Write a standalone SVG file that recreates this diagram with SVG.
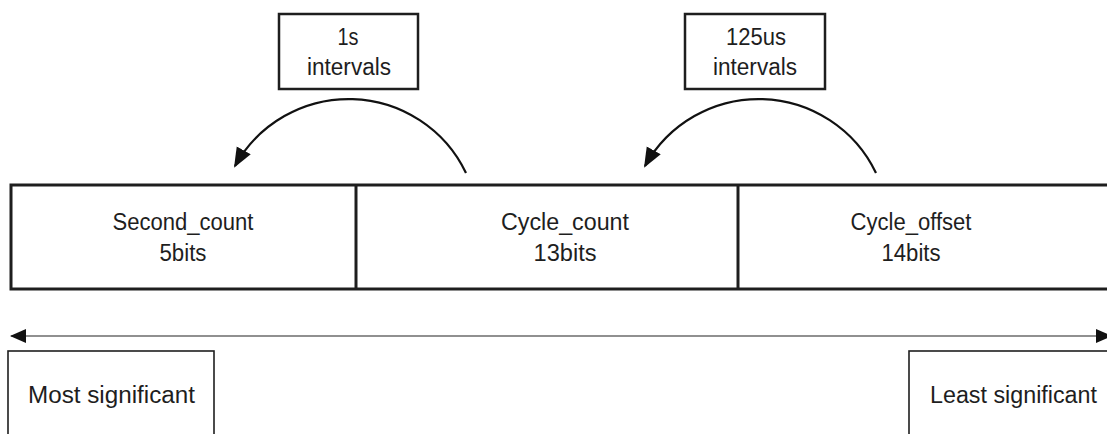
<svg xmlns="http://www.w3.org/2000/svg" width="1107" height="434" viewBox="0 0 1107 434">
<style>
text{font-family:"Liberation Sans",Arial,sans-serif;font-size:23px;fill:#1e1e1e;text-anchor:middle}
.lbl{fill:#fff;stroke:#1e1e1e;stroke-width:2.5}
.fld{fill:#fff;stroke:#1e1e1e;stroke-width:3}
.side{fill:#fff;stroke:#1e1e1e;stroke-width:1.6}
.arc{fill:none;stroke:#111;stroke-width:2.2}
.axis{fill:none;stroke:#222;stroke-width:1.2}
</style>
<defs>
<marker id="ah" markerUnits="userSpaceOnUse" markerWidth="22" markerHeight="18" viewBox="0 -9 22 18" refX="18" refY="0" orient="auto">
<path d="M0,-8 L20,0 L0,8 z" fill="#111"/>
</marker>
<marker id="ax" markerUnits="userSpaceOnUse" markerWidth="18" markerHeight="16" viewBox="0 -8 18 16" refX="15" refY="0" orient="auto-start-reverse">
<path d="M0,-7 L16,0 L0,7 z" fill="#111"/>
</marker>
</defs>
<g id="fields">
<rect class="fld" x="11" y="185" width="1120" height="104"/>
<line class="fld" x1="356" y1="185" x2="356" y2="289"/>
<line class="fld" x1="738" y1="185" x2="738" y2="289"/>
</g>
<g id="second_count">
<text x="183" y="230" textLength="141" lengthAdjust="spacingAndGlyphs">Second_count</text>
<text x="183" y="261" textLength="47" lengthAdjust="spacingAndGlyphs">5bits</text>
</g>
<g id="cycle_count">
<text x="565" y="230" textLength="128" lengthAdjust="spacingAndGlyphs">Cycle_count</text>
<text x="565" y="261" textLength="63" lengthAdjust="spacingAndGlyphs">13bits</text>
</g>
<g id="cycle_offset">
<text x="911" y="230" textLength="121" lengthAdjust="spacingAndGlyphs">Cycle_offset</text>
<text x="911" y="261" textLength="59" lengthAdjust="spacingAndGlyphs">14bits</text>
</g>
<g id="label_1s">
<rect class="lbl" x="279" y="14" width="139" height="75"/>
<text x="348" y="45" textLength="21" lengthAdjust="spacingAndGlyphs">1s</text>
<text x="349" y="75" textLength="84" lengthAdjust="spacingAndGlyphs">intervals</text>
</g>
<g id="label_125us">
<rect class="lbl" x="685" y="14" width="140" height="75"/>
<text x="756" y="45" textLength="60" lengthAdjust="spacingAndGlyphs">125us</text>
<text x="755" y="75" textLength="84" lengthAdjust="spacingAndGlyphs">intervals</text>
</g>
<g id="most_significant">
<rect class="side" x="8" y="351" width="206" height="100"/>
<text x="28" y="403" style="text-anchor:start" textLength="167" lengthAdjust="spacingAndGlyphs">Most significant</text>
</g>
<g id="least_significant">
<rect class="side" x="909" y="351" width="220" height="100"/>
<text x="930" y="403" style="text-anchor:start" textLength="167" lengthAdjust="spacingAndGlyphs">Least significant</text>
</g>
<g id="connectors">
<path class="arc" d="M466,173 A130,130 0 0 0 235,166" marker-end="url(#ah)"/>
<path class="arc" d="M876,173 A130,130 0 0 0 645,166" marker-end="url(#ah)"/>
<line class="axis" x1="11" y1="336" x2="1111" y2="336" marker-start="url(#ax)" marker-end="url(#ax)"/>
</g>
</svg>
